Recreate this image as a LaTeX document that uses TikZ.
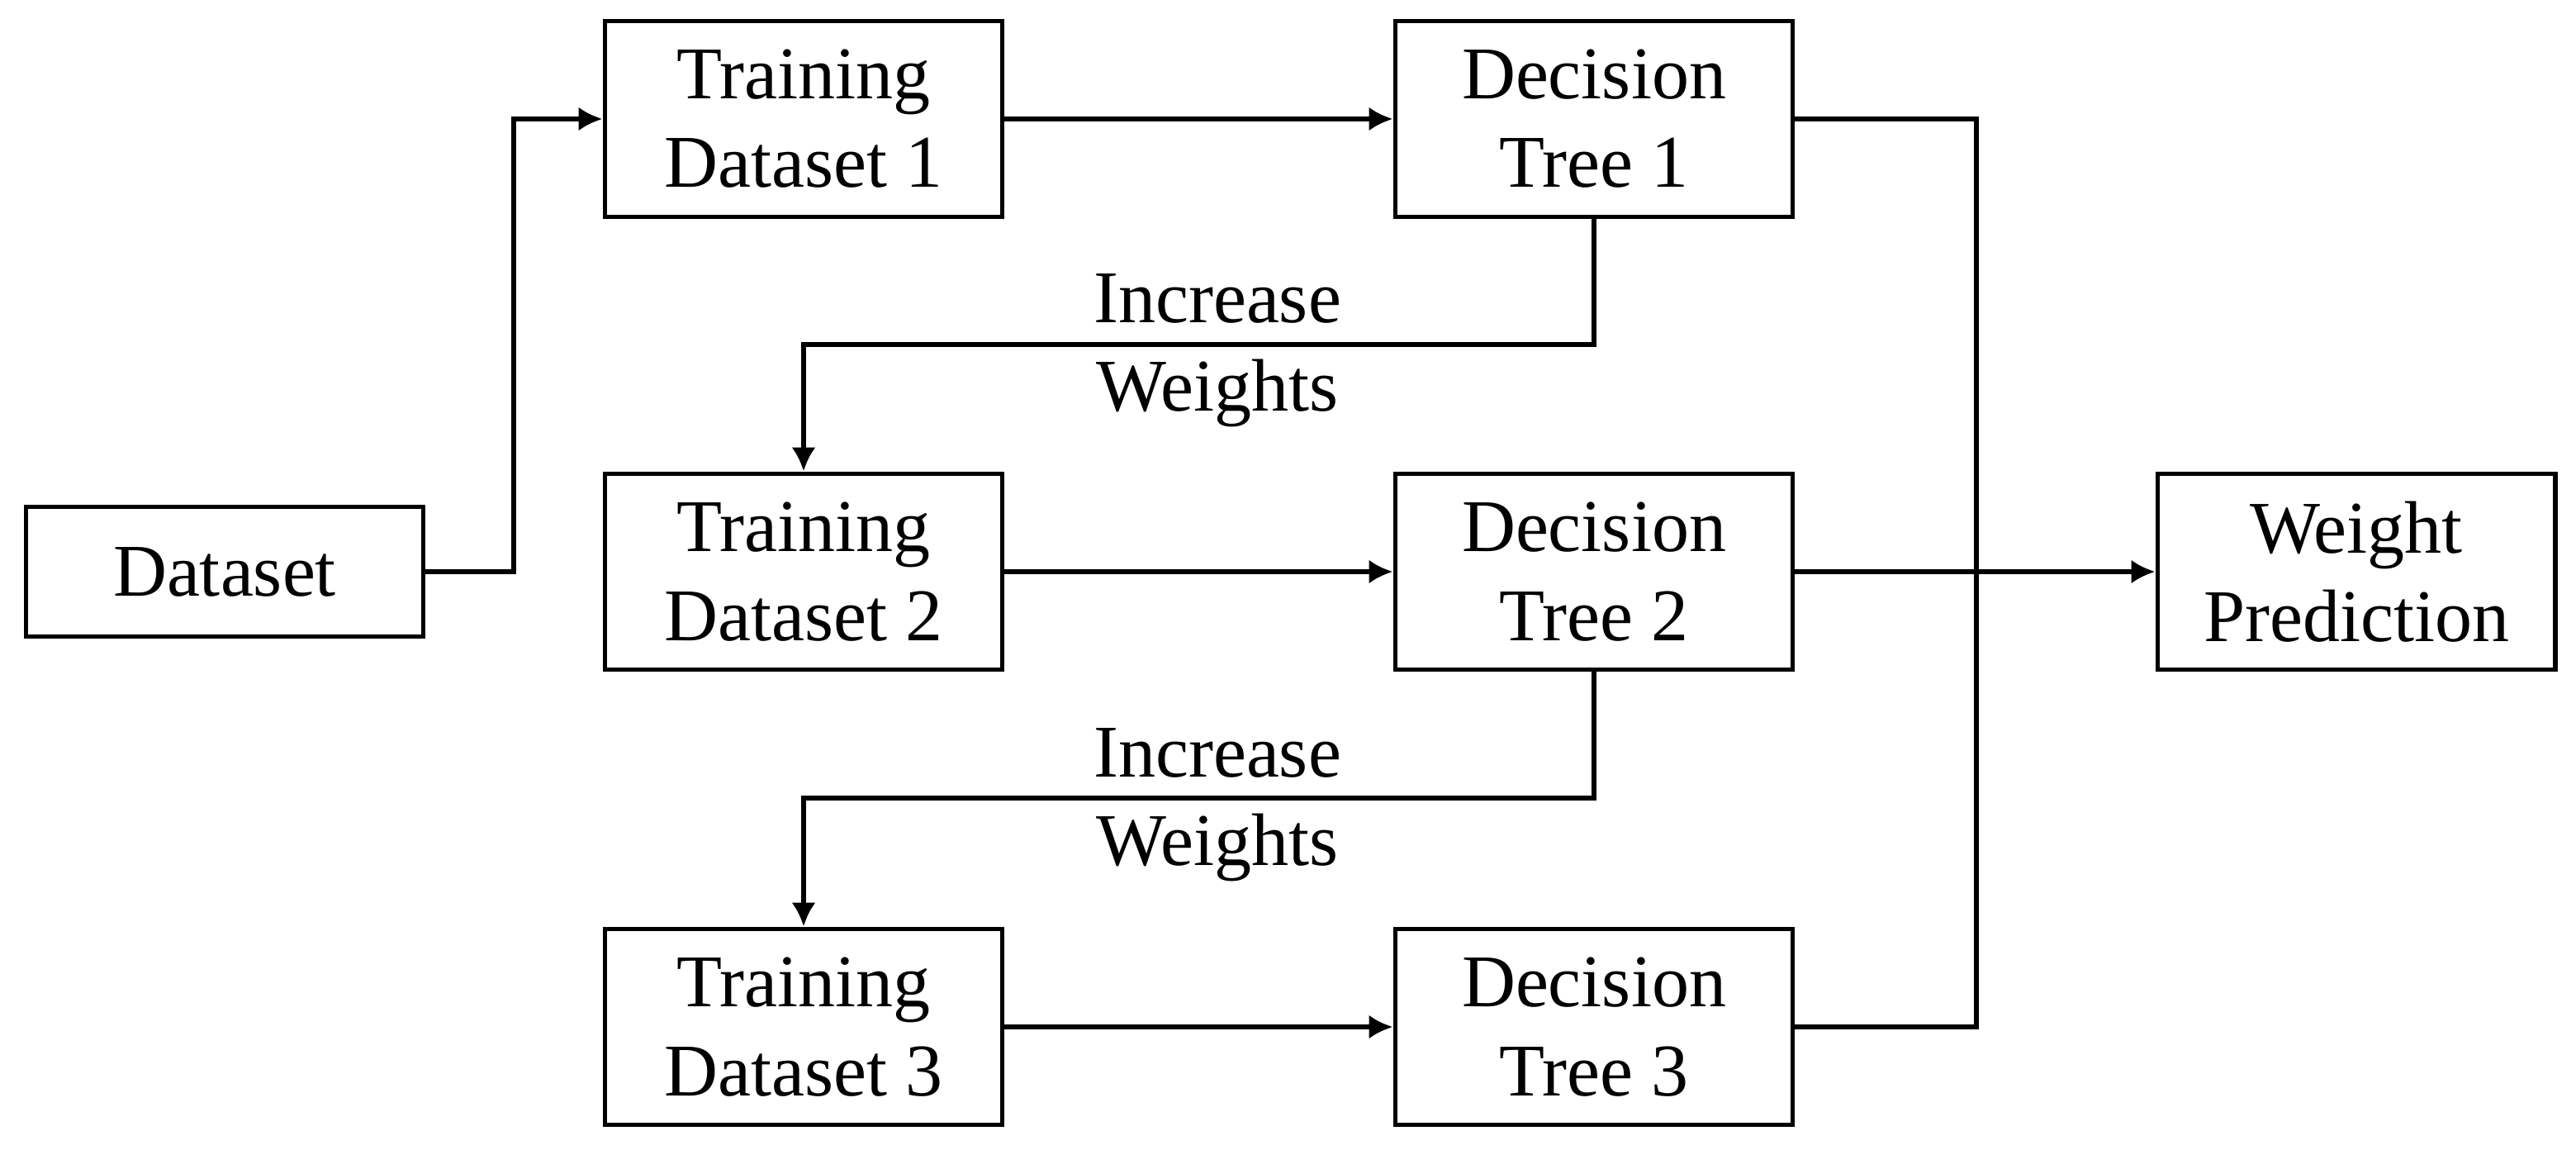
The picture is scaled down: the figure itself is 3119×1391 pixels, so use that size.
\documentclass[tikz,border=0pt]{standalone}
\usepackage{fontspec}
\setmainfont{Liberation Serif}
\usetikzlibrary{arrows.meta}
\begin{document}
\begin{tikzpicture}[x=0.01cm,y=-0.01cm,
  box/.style={draw=black,line width=1.6pt,minimum width=4.81cm,align=center,inner sep=0pt,
    font=\fontsize{25.6}{30.5}\selectfont},
  tall/.style={box,minimum height=2.37cm},
  short/.style={box,minimum height=1.57cm},
  lbl/.style={align=center,inner sep=0pt,font=\fontsize{25.6}{30.5}\selectfont},
  conn/.style={line width=1.6pt},
  arr/.style={conn,-{Latex[length=0.29cm,width=0.29cm]}}]
\useasboundingbox (0,0) rectangle (3119,1391);
\node[short] (ds) at (272,692) {Dataset};
\node[tall] (td1) at (973,144) {Training\\Dataset 1};
\node[tall] (dt1) at (1930,144) {Decision\\Tree 1};
\node[tall] (td2) at (973,692) {Training\\Dataset 2};
\node[tall] (dt2) at (1930,692) {Decision\\Tree 2};
\node[tall] (td3) at (973,1243) {Training\\Dataset 3};
\node[tall] (dt3) at (1930,1243) {Decision\\Tree 3};
\node[tall] (wp) at (2853,692) {Weight\\Prediction};
\node[lbl] (iw1) at (1474,424) {Increase\\Weights};
\node[lbl] (iw2) at (1474,974) {Increase\\Weights};
\draw[arr] (ds.east) -| (622,400) |- (td1.west);
\draw[arr] (td1.east) -- (dt1.west);
\draw[arr] (td2.east) -- (dt2.west);
\draw[arr] (td3.east) -- (dt3.west);
\draw[arr] (dt1.south) |- (1400,417) -| (td2.north);
\draw[arr] (dt2.south) |- (1400,966) -| (td3.north);
\draw[conn] (dt1.east) -| (2393,700) |- (dt3.east);
\draw[arr] (dt2.east) -- (wp.west);
\end{tikzpicture}
\end{document}
